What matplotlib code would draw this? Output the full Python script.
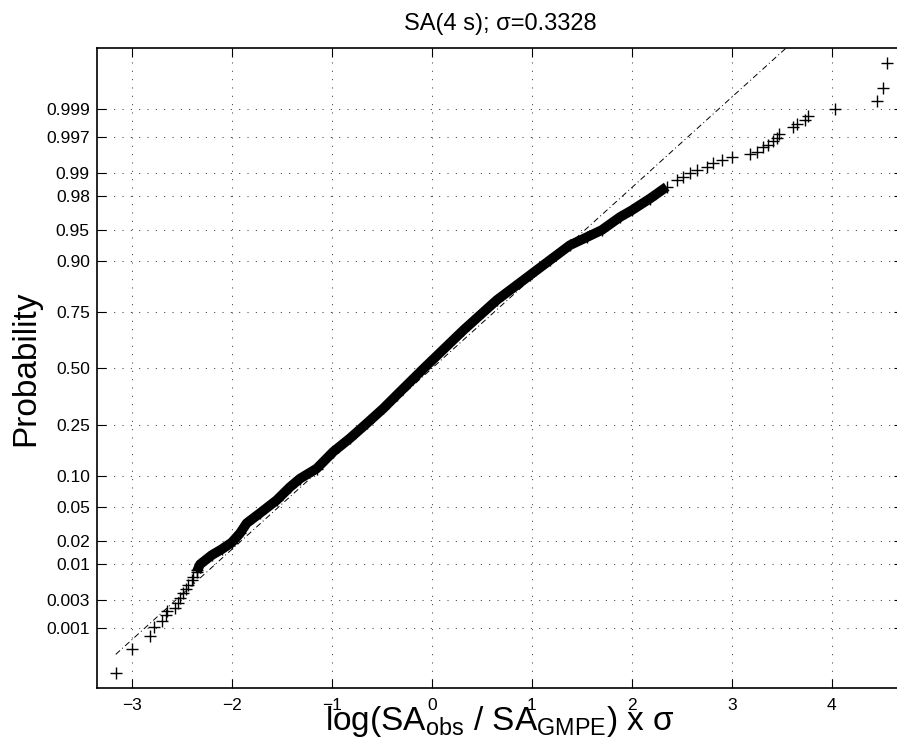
import matplotlib
matplotlib.use('Agg')
import matplotlib.pyplot as plt
from statistics import NormalDist

plt.rcParams['font.family'] = ['Liberation Sans', 'DejaVu Sans']
plt.rcParams['mathtext.fontset'] = 'custom'
plt.rcParams['mathtext.rm'] = 'Liberation Sans'
plt.rcParams['mathtext.it'] = 'Liberation Sans:italic'

nd = NormalDist()

# probability axis (normal probability paper)
prob_ticks = [0.001, 0.003, 0.01, 0.02, 0.05, 0.10, 0.25, 0.50,
              0.75, 0.90, 0.95, 0.98, 0.99, 0.997, 0.999]
prob_labels = ['0.001', '0.003', '0.01', '0.02', '0.05', '0.10', '0.25', '0.50',
               '0.75', '0.90', '0.95', '0.98', '0.99', '0.997', '0.999']
x_ticks = [-3, -2, -1, 0, 1, 2, 3, 4]

# residuals; q = standard normal quantile of the plotting position
# lower tail (single markers)
x_low = [-3.16, -3.00, -2.82, -2.777, -2.694, -2.66, -2.65, -2.567, -2.534,
         -2.517, -2.484, -2.46, -2.434, -2.40, -2.384, -2.35]
q_low = [-3.62, -3.33, -3.18, -3.08, -3.00, -2.93, -2.89, -2.85, -2.79,
         -2.73, -2.675, -2.62, -2.577, -2.52, -2.48, -2.40]

# dense body (markers overlap into a solid band)
x_body = [-2.35, -2.317, -2.20, -2.10, -2.00, -1.917, -1.85, -1.717, -1.55,
          -1.417, -1.317, -1.15, -0.984, -0.817, -0.65, -0.484, -0.35, -0.08,
          0.317, 0.65, 0.983, 1.183, 1.383, 1.55, 1.70, 1.883, 2.00, 2.183, 2.35]
q_body = [-2.42, -2.33, -2.22, -2.15, -2.07, -1.96, -1.84, -1.72, -1.566,
          -1.41, -1.31, -1.19, -0.99, -0.83, -0.654, -0.476, -0.317, 0.0,
          0.455, 0.812, 1.109, 1.288, 1.466, 1.56, 1.645, 1.80, 1.88, 2.02, 2.16]

# upper tail (single markers)
x_high = [2.45, 2.517, 2.583, 2.65, 2.75, 2.817, 2.90, 3.00, 3.183, 3.25,
          3.317, 3.367, 3.417, 3.45, 3.47, 3.617, 3.65, 3.733, 3.767, 4.033,
          4.45, 4.517, 4.557]
q_high = [2.24, 2.28, 2.325, 2.36, 2.40, 2.44, 2.48, 2.52, 2.55, 2.576,
          2.636, 2.66, 2.70, 2.735, 2.786, 2.873, 2.905, 2.952, 3.0, 3.083,
          3.18, 3.33, 3.63]

# reference line end points (x, q)
ref_x = [-3.16, 3.60]
ref_q = [-3.40, 3.87]

fig = plt.figure(figsize=(8.97, 7.55), dpi=100)
ax = fig.add_axes([0.1078, 0.0887, 0.8989, 0.8477])

ax.plot(ref_x, ref_q, color='k', lw=0.7, dashes=(6, 3, 1, 3), zorder=2)
ax.plot(x_body, q_body, color='k', lw=7, solid_capstyle='butt',
        solid_joinstyle='round', zorder=3)
ax.plot(x_body, q_body, ls='none', marker='+', ms=8, mew=1.0, color='k', zorder=3)
ax.plot(x_low, q_low, ls='none', marker='+', ms=8, mew=1.0, color='k', zorder=3)
ax.plot(x_high, q_high, ls='none', marker='+', ms=8, mew=1.0, color='k', zorder=3)

ax.set_xlim(-3.35, 4.713)
ax.set_ylim(-3.80, 3.81)
ax.set_xticks(x_ticks)
ax.set_yticks([nd.inv_cdf(p) for p in prob_ticks], prob_labels)
ax.tick_params(direction='in', length=6.5, width=0.8, labelsize=12.5,
               top=True, right=True)
ax.tick_params(axis='x', pad=7)
ax.tick_params(axis='y', pad=5)
for s in ax.spines.values():
    s.set_linewidth(1.2)

ax.grid(True, color='0.25', lw=0.75, dashes=(1, 7))

fig.text(0.5574, 1 - 30 / 755, 'SA(4 s); σ=0.3328', ha='center',
         va='baseline', fontsize=17)
fig.text(0.5574, 1 - 730 / 755, r'log(SA$_{\mathrm{obs}}$ / SA$_{\mathrm{GMPE}}$) x σ',
         ha='center', va='baseline', fontsize=24)
fig.text(26 / 897, 0.5125, 'Probability', rotation=90, ha='center', va='center',
         fontsize=24)

fig.savefig('out.png', dpi=100)
